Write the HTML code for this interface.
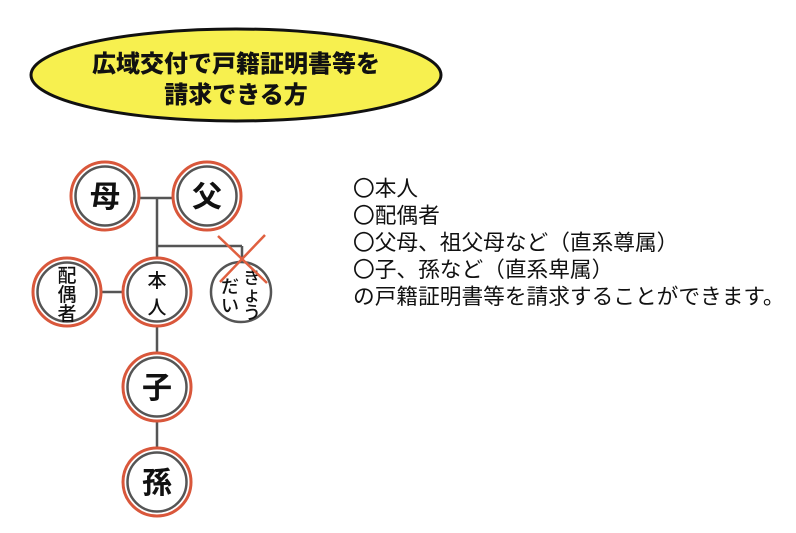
<!DOCTYPE html>
<html><head><meta charset="utf-8"><style>
body{margin:0;width:796px;height:533px;background:#fff;overflow:hidden;position:relative;font-family:"Liberation Sans","Noto Sans CJK JP",sans-serif;}
.t{position:absolute;left:353px;top:175px;font-size:21.7px;line-height:27px;color:#111;white-space:nowrap;}
</style></head><body>
<svg width="796" height="533" style="position:absolute;left:0;top:0" font-family="Noto Sans CJK JP, sans-serif">
<ellipse cx="236" cy="75" rx="205" ry="46" fill="#f7f04f" stroke="#111" stroke-width="3"/>
<text x="236" y="72" text-anchor="middle" font-size="24" font-weight="900" fill="#111">広域交付で戸籍証明書等を</text>
<text x="236" y="103" text-anchor="middle" font-size="24" font-weight="900" fill="#111">請求できる方</text>
<g stroke="#555" stroke-width="2.5" fill="none">
<line x1="105" y1="198" x2="207" y2="198"/>
<line x1="157" y1="198" x2="157" y2="482"/>
<line x1="157" y1="246" x2="242" y2="246"/>
<line x1="242" y1="246" x2="242" y2="262"/>
<line x1="67" y1="292" x2="157" y2="292"/>
</g>
<g fill="#fff">
<g stroke="#d9573b" stroke-width="3">
<circle cx="105" cy="196" r="34"/><circle cx="207" cy="196" r="34"/>
<circle cx="67" cy="292" r="34"/><circle cx="157" cy="292" r="34"/>
<circle cx="157" cy="387" r="34"/><circle cx="157" cy="482" r="34"/>
</g>
<g stroke="#555" stroke-width="2.5">
<circle cx="105" cy="196" r="29.5"/><circle cx="207" cy="196" r="29.5"/>
<circle cx="67" cy="292" r="29.5"/><circle cx="157" cy="292" r="29.5"/>
<circle cx="157" cy="387" r="29.5"/><circle cx="157" cy="482" r="29.5"/>
<circle cx="241" cy="292" r="30"/>
</g>
</g>
<g fill="#111" text-anchor="middle" font-weight="bold">
<text x="105" y="207" font-size="30">母</text>
<text x="207" y="207" font-size="30">父</text>
<text x="157" y="398" font-size="30">子</text>
<text x="157" y="493" font-size="30">孫</text>
</g>
<g fill="#111" text-anchor="middle" font-size="19" font-weight="500">
<text x="67" y="282">配</text><text x="67" y="301">偶</text><text x="67" y="320">者</text>
<text x="157" y="287" font-size="19">本</text><text x="157" y="314" font-size="19">人</text>
<text x="252" y="284" font-size="18">き</text><text x="252" y="301" font-size="18">ょ</text><text x="252" y="319" font-size="18">う</text>
<text x="230" y="293" font-size="18">だ</text><text x="230" y="312" font-size="18">い</text>
</g>
<g stroke="#e06040" stroke-width="2.5">
<line x1="218" y1="236" x2="267" y2="283"/>
<line x1="265" y1="235" x2="220" y2="282"/>
</g>
</svg>
<div class="t">〇本人<br>〇配偶者<br>〇父母、祖父母など（直系尊属）<br>〇子、孫など（直系卑属）<br>の戸籍証明書等を請求することができます。</div>
</body></html>
